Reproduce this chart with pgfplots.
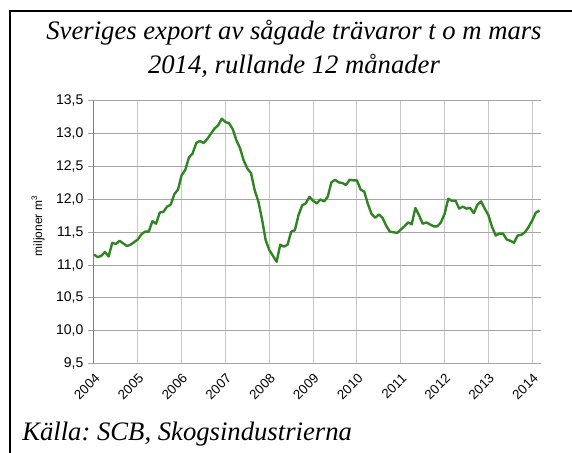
\documentclass[border=0pt]{standalone}
\usepackage{pgfplots}
\usepackage{pgfplotstable}
\pgfplotsset{compat=1.18}
\usepackage{fontspec}
\setmainfont{Liberation Serif}
\newfontfamily\arial{Liberation Sans}
\definecolor{linegreen}{RGB}{47,133,33}
\definecolor{gridh}{RGB}{165,165,165}
\definecolor{gridv}{RGB}{200,200,200}
\definecolor{axisgray}{RGB}{128,128,128}

\pgfplotstableread{
x y
2004.0000 11.16
2004.0833 11.12
2004.1667 11.14
2004.2500 11.20
2004.3333 11.13
2004.4167 11.34
2004.5000 11.32
2004.5833 11.37
2004.6667 11.33
2004.7500 11.29
2004.8333 11.31
2004.9167 11.35
2005.0000 11.39
2005.0833 11.47
2005.1667 11.51
2005.2500 11.51
2005.3333 11.67
2005.4167 11.63
2005.5000 11.80
2005.5833 11.81
2005.6667 11.89
2005.7500 11.92
2005.8333 12.08
2005.9167 12.15
2006.0000 12.37
2006.0833 12.45
2006.1667 12.64
2006.2500 12.70
2006.3333 12.86
2006.4167 12.89
2006.5000 12.86
2006.5833 12.92
2006.6667 13.00
2006.7500 13.08
2006.8333 13.13
2006.9167 13.23
2007.0000 13.18
2007.0833 13.16
2007.1667 13.07
2007.2500 12.90
2007.3333 12.78
2007.4167 12.59
2007.5000 12.47
2007.5833 12.40
2007.6667 12.14
2007.7500 11.97
2007.8333 11.70
2007.9167 11.38
2008.0000 11.23
2008.0833 11.14
2008.1667 11.05
2008.2500 11.31
2008.3333 11.28
2008.4167 11.31
2008.5000 11.51
2008.5833 11.53
2008.6667 11.76
2008.7500 11.91
2008.8333 11.94
2008.9167 12.04
2009.0000 11.98
2009.0833 11.94
2009.1667 12.00
2009.2500 11.97
2009.3333 12.04
2009.4167 12.26
2009.5000 12.30
2009.5833 12.26
2009.6667 12.25
2009.7500 12.22
2009.8333 12.30
2009.9167 12.29
2010.0000 12.29
2010.0833 12.15
2010.1667 12.12
2010.2500 11.93
2010.3333 11.78
2010.4167 11.72
2010.5000 11.77
2010.5833 11.72
2010.6667 11.60
2010.7500 11.51
2010.8333 11.50
2010.9167 11.49
2011.0000 11.54
2011.0833 11.59
2011.1667 11.65
2011.2500 11.62
2011.3333 11.87
2011.4167 11.76
2011.5000 11.63
2011.5833 11.65
2011.6667 11.62
2011.7500 11.59
2011.8333 11.59
2011.9167 11.65
2012.0000 11.78
2012.0833 12.01
2012.1667 11.98
2012.2500 11.98
2012.3333 11.86
2012.4167 11.89
2012.5000 11.86
2012.5833 11.87
2012.6667 11.79
2012.7500 11.92
2012.8333 11.97
2012.9167 11.86
2013.0000 11.76
2013.0833 11.58
2013.1667 11.45
2013.2500 11.48
2013.3333 11.48
2013.4167 11.39
2013.5000 11.37
2013.5833 11.34
2013.6667 11.45
2013.7500 11.46
2013.8333 11.50
2013.9167 11.58
2014.0000 11.68
2014.0833 11.80
2014.1667 11.83
}\datatable

\begin{document}
\frenchspacing
\begin{tikzpicture}
\useasboundingbox (0,0) rectangle (429pt,339.75pt);
\draw[line width=1.5pt] (7.5pt,-5pt) -- (7.5pt,331.5pt) -- (440pt,331.5pt);
\node[anchor=base, inner sep=0, font=\itshape\fontsize{20}{24}\selectfont] at (220.5pt,310pt) {Sveriges export av sågade trävaror t o m mars};
\node[anchor=base, inner sep=0, font=\itshape\fontsize{20}{24}\selectfont] at (220.5pt,284.5pt) {2014, rullande 12 månader};
\node[anchor=base west, inner sep=0, font=\itshape\fontsize{20}{24}\selectfont] at (16.5pt,9pt) {Källa: SCB, Skogsindustrierna};
\begin{axis}[
  at={(70.5pt,67.125pt)}, anchor=south west,
  scale only axis, width=335.25pt, height=196.875pt,
  xmin=2004, xmax=2014.2, ymin=9.5, ymax=13.5,
  xtick={2004,2005,2006,2007,2008,2009,2010,2011,2012,2013,2014},
  xticklabels={2004,2005,2006,2007,2008,2009,2010,2011,2012,2013,2014},
  ytick={9.5,10,10.5,11,11.5,12,12.5,13,13.5},
  axis x line*=bottom, axis y line*=left,
  x axis line style={-, draw=gridh, line width=0.75pt},
  y axis line style={-, draw=axisgray, line width=0.75pt},
  grid=major,
  major x grid style={draw=gridv, line width=0.75pt},
  major y grid style={draw=gridh, line width=0.75pt},
  xtick style={draw=none},
  ytick style={draw=gridh, line width=0.75pt},
  tick align=outside, major tick length=4.5pt,
  tick label style={font=\arial\fontsize{10.5}{12}\selectfont},
  y tick label style={/pgf/number format/fixed, /pgf/number format/fixed zerofill, /pgf/number format/precision=1, /pgf/number format/use comma, /pgf/number format/assume math mode=true},
  x tick label style={font=\arial\fontsize{10}{12}\selectfont, rotate=45, anchor=north east, inner sep=1.5pt},
  ylabel={miljoner m\textsuperscript{3}},
  ylabel style={font=\arial\fontsize{9}{11}\selectfont, at={(axis description cs:-0.125,0.524)}, anchor=center},
]
\addplot[linegreen, line width=1.8pt, no markers, line join=round] table[x=x,y=y]{\datatable};
\end{axis}
\end{tikzpicture}
\end{document}
